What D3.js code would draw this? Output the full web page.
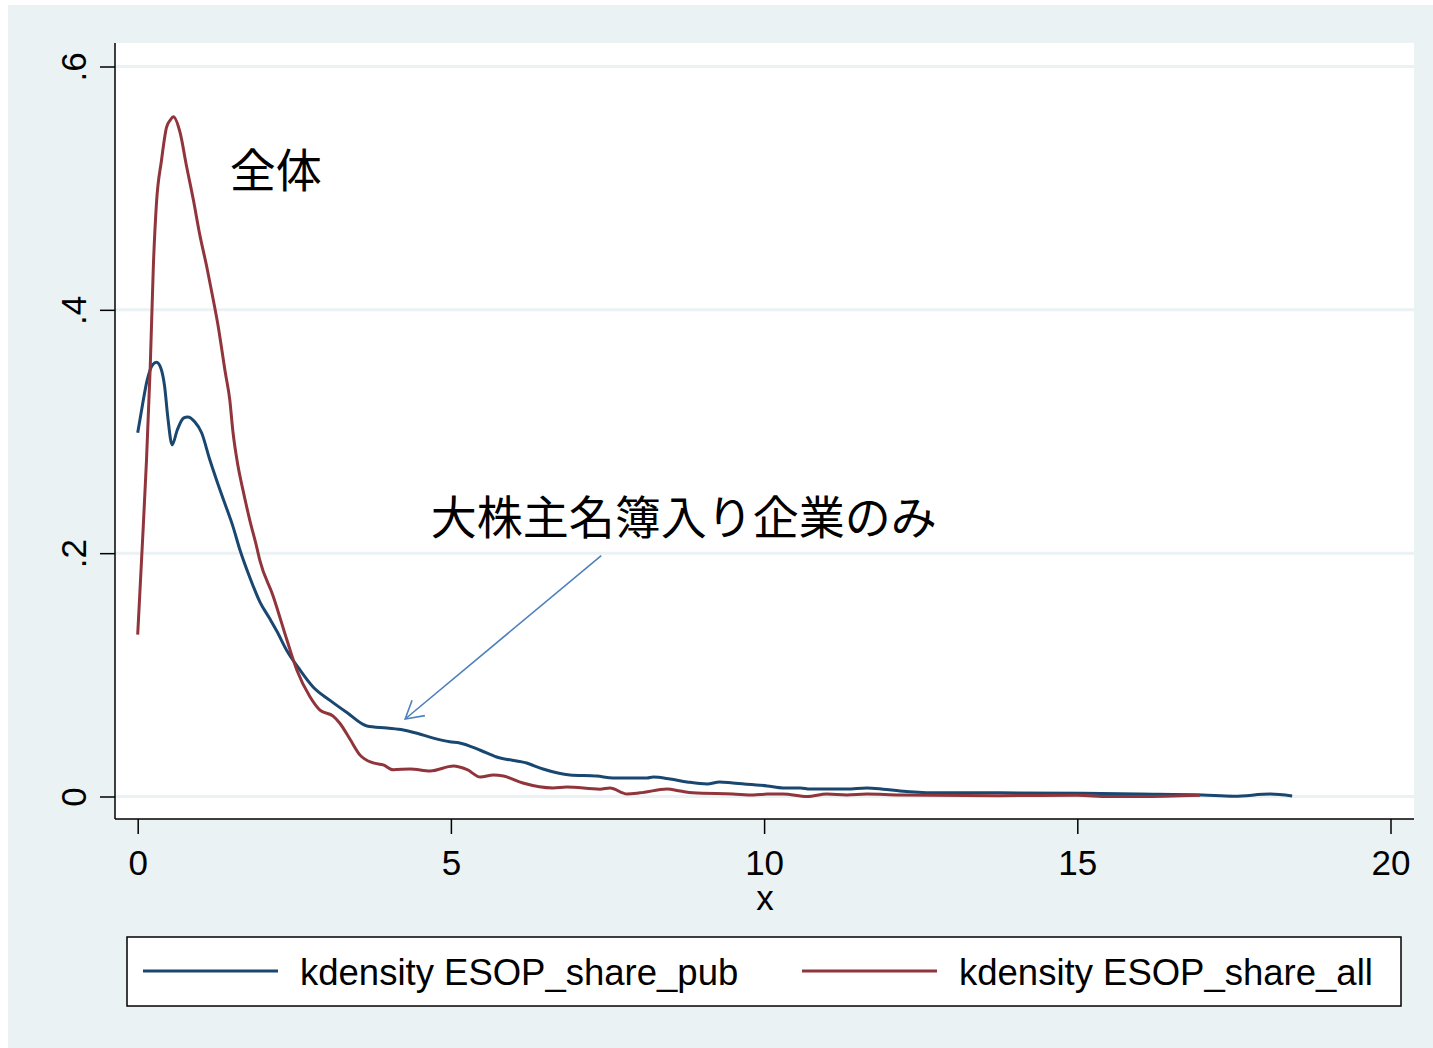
<html>

<head>
    <style>
        body { margin: 0; background: #fff; }
        text { font-family: "Liberation Sans", Arial, sans-serif; }
        .jp { font-family: "Noto Sans CJK JP", sans-serif; }
    </style>
</head>

<body>
    <svg id="container" height="1048" width="1433"></svg>
</body>
<script src="https://cdn.jsdelivr.net/npm/d3@7"></script>
<script>
    // kdensity ESOP_share_pub (blue)
    let pubX = [0, 0.07, 0.15, 0.24, 0.30, 0.37, 0.43, 0.48, 0.55, 0.63, 0.73, 0.80, 0.91, 1.02, 1.15, 1.26, 1.39, 1.52, 1.63, 1.79, 1.95, 2.11, 2.22, 2.38, 2.59, 2.80, 3.07, 3.34, 3.66, 3.98, 4.24, 4.46, 4.72, 4.98, 5.14, 5.47, 5.73, 6.21, 6.47, 6.90, 7.33, 7.59, 8.13, 8.23, 8.50, 8.77, 9.09, 9.29, 9.50, 10.05, 10.30, 10.58, 10.73, 11.32, 11.64, 11.90, 12.17, 12.70, 13.77, 15.09, 16.0, 17.0, 17.5, 18.08, 18.43]
    let pubY = [0.299, 0.320, 0.342, 0.355, 0.357, 0.352, 0.337, 0.312, 0.289, 0.301, 0.311, 0.312, 0.308, 0.299, 0.277, 0.260, 0.241, 0.222, 0.203, 0.180, 0.160, 0.146, 0.136, 0.120, 0.104, 0.090, 0.079, 0.069, 0.058, 0.0563, 0.0547, 0.052, 0.048, 0.045, 0.044, 0.038, 0.0325, 0.0275, 0.0226, 0.0177, 0.0168, 0.0152, 0.0152, 0.016, 0.0144, 0.012, 0.0103, 0.012, 0.011, 0.0087, 0.007, 0.007, 0.0061, 0.0061, 0.007, 0.006, 0.0045, 0.003, 0.003, 0.0026, 0.002, 0.0012, 0.0002, 0.002, 0.0004]

    // kdensity ESOP_share_all (red)
    let allX = [0, 0.07, 0.14, 0.20, 0.25, 0.30, 0.38, 0.46, 0.52, 0.57, 0.675, 0.78, 0.89, 0.99, 1.10, 1.20, 1.28, 1.40, 1.47, 1.52, 1.60, 1.68, 1.79, 1.90, 1.95, 2.16, 2.38, 2.54, 2.75, 2.91, 3.12, 3.23, 3.39, 3.55, 3.76, 3.92, 4.08, 4.35, 4.67, 5.04, 5.26, 5.47, 5.68, 5.84, 6.15, 6.63, 6.85, 7.38, 7.54, 7.81, 8.02, 8.45, 8.66, 8.86, 9.50, 9.83, 10.05, 10.30, 10.69, 11.0, 11.32, 11.64, 12.17, 13.77, 15.0, 15.5, 16.0, 16.96]
    let allY = [0.133, 0.203, 0.276, 0.353, 0.436, 0.488, 0.523, 0.550, 0.556, 0.5587, 0.546, 0.518, 0.490, 0.462, 0.436, 0.410, 0.388, 0.348, 0.326, 0.300, 0.272, 0.252, 0.227, 0.205, 0.194, 0.165, 0.129, 0.104, 0.082, 0.071, 0.066, 0.060, 0.047, 0.034, 0.0276, 0.026, 0.022, 0.0226, 0.021, 0.025, 0.022, 0.016, 0.0177, 0.0168, 0.0111, 0.007, 0.0078, 0.006, 0.007, 0.0021, 0.003, 0.0061, 0.0045, 0.003, 0.002, 0.0012, 0.002, 0.002, 0.0, 0.002, 0.0012, 0.002, 0.0012, 0.0007, 0.001, 0.0, 0.0, 0.001]

    let xTicks = [0, 5, 10, 15, 20]
    let yTicks = [0, 0.2, 0.4, 0.6]
    let yTickLabels = ["0", ".2", ".4", ".6"]
    let legendLabels = ["kdensity ESOP_share_pub", "kdensity ESOP_share_all"]
    let colors = ["#1a476f", "#90353b"]

    let svg = d3.select("#container")

    // plot region edges
    let plotLeft = 115, plotRight = 1414, plotTop = 43, plotBottom = 819

    let x = d3.scaleLinear().domain([0, 20]).range([137.7, 1390.5])
    let y = d3.scaleLinear().domain([0, 0.6]).range([796.5, 66.5])

    // background
    svg.append("rect").attr("x", 8).attr("y", 5).attr("width", 1425).attr("height", 1043)
        .attr("fill", "#eaf2f3")
    svg.append("rect").attr("x", plotLeft).attr("y", plotTop)
        .attr("width", plotRight - plotLeft).attr("height", plotBottom - plotTop)
        .attr("fill", "#fff")

    // gridlines
    svg.selectAll(".grid")
        .data(yTicks)
        .enter()
        .append("line")
        .attr("x1", plotLeft).attr("x2", plotRight)
        .attr("y1", d => y(d)).attr("y2", d => y(d))
        .attr("stroke", "#eaf2f3")
        .attr("stroke-width", 3)

    // y axis
    let yAxis = svg.append("g")
        .attr("transform", "translate(" + plotLeft + ",0)")
        .call(d3.axisLeft(y).tickValues(yTicks).tickSize(15)
            .tickFormat((d, i) => yTickLabels[i]))
    yAxis.select(".domain").remove()
    yAxis.selectAll("line").attr("stroke", "#000").attr("stroke-width", 1.5)
    yAxis.selectAll("text")
        .attr("transform", "rotate(-90)")
        .attr("x", 0).attr("y", -29).attr("dy", 0)
        .attr("text-anchor", "middle")
        .style("font-size", "35px")
        .attr("fill", "#000")
        .style("font-family", "Liberation Sans, Arial, sans-serif")

    // x axis
    let xAxis = svg.append("g")
        .attr("transform", "translate(0," + plotBottom + ")")
        .call(d3.axisBottom(x).tickValues(xTicks).tickSize(15).tickFormat(d3.format("d")))
    xAxis.select(".domain").remove()
    xAxis.selectAll("line").attr("stroke", "#000").attr("stroke-width", 1.5)
    xAxis.selectAll("text")
        .attr("y", 56).attr("dy", 0)
        .style("font-size", "35px")
        .attr("fill", "#000")
        .style("font-family", "Liberation Sans, Arial, sans-serif")

    // axis lines
    svg.append("line").attr("x1", plotLeft).attr("x2", plotLeft).attr("y1", plotTop).attr("y2", plotBottom)
        .attr("stroke", "#000").attr("stroke-width", 1.5)
    svg.append("line").attr("x1", plotLeft).attr("x2", plotRight).attr("y1", plotBottom).attr("y2", plotBottom)
        .attr("stroke", "#000").attr("stroke-width", 1.5)

    svg.append("text")
        .attr("x", (plotLeft + plotRight) / 2 + 0.5)
        .attr("y", 910)
        .attr("text-anchor", "middle")
        .style("font-size", "35px")
        .text("x")

    // density lines
    let line = d3.line()
        .x(d => x(d[0]))
        .y(d => y(d[1]))
        .curve(d3.curveMonotoneX)

    let series = [
        d3.zip(pubX, pubY),
        d3.zip(allX, allY)
    ]

    svg.selectAll(".kd")
        .data(series)
        .enter()
        .append("path")
        .attr("d", line)
        .attr("fill", "none")
        .attr("stroke", (d, i) => colors[i])
        .attr("stroke-width", 3)
        .attr("stroke-linejoin", "round")

    // annotations
    svg.append("text").attr("class", "jp")
        .attr("x", x(1.47)).attr("y", y(0.501))
        .style("font-size", "46px")
        .text("全体")

    svg.append("text").attr("class", "jp")
        .attr("x", x(4.68)).attr("y", y(0.216))
        .style("font-size", "46px")
        .text("大株主名簿入り企業のみ")

    // arrow
    let ax0 = x(7.40), ay0 = y(0.198), ax1 = x(4.27), ay1 = y(0.0637)
    let ang = Math.atan2(ay0 - ay1, ax0 - ax1)
    let headLen = 20, spread = Math.PI / 6
    svg.append("line")
        .attr("x1", ax0).attr("y1", ay0).attr("x2", ax1).attr("y2", ay1)
        .attr("stroke", "#4f81bd").attr("stroke-width", 1.6)
    svg.append("path")
        .attr("d", "M" + (ax1 + headLen * Math.cos(ang - spread)) + "," + (ay1 + headLen * Math.sin(ang - spread)) +
            "L" + ax1 + "," + ay1 +
            "L" + (ax1 + headLen * Math.cos(ang + spread)) + "," + (ay1 + headLen * Math.sin(ang + spread)))
        .attr("fill", "none")
        .attr("stroke", "#4f81bd").attr("stroke-width", 1.6)

    // legend
    svg.append("rect")
        .attr("x", 127).attr("y", 937).attr("width", 1274).attr("height", 69)
        .attr("fill", "#fff").attr("stroke", "#000").attr("stroke-width", 1.5)

    let legendG = svg.selectAll(".legend")
        .data(legendLabels)
        .enter()
        .append("g")
        .attr("transform", (d, i) => "translate(" + (143 + i * 659) + ",971)")

    legendG.append("line")
        .attr("x1", 0).attr("x2", 135)
        .attr("stroke", (d, i) => colors[i])
        .attr("stroke-width", 3)

    legendG.append("text")
        .attr("x", 157).attr("y", 14)
        .style("font-size", "36.5px")
        .text(d => d)
</script>

</html>
